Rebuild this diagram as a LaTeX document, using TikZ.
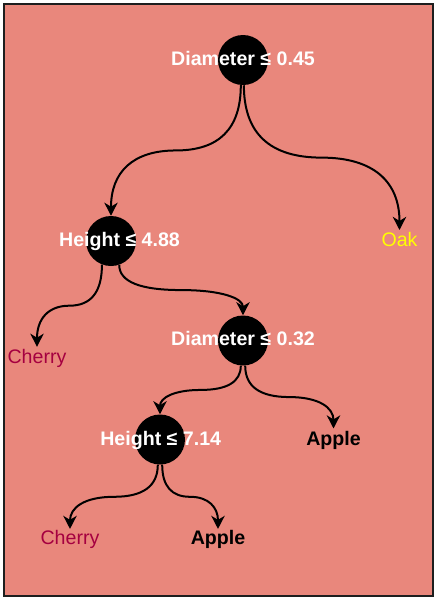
\documentclass[tikz,border=0pt]{standalone}
\usepackage{fontspec}
\setmainfont{Liberation Sans}
\usetikzlibrary{arrows.meta,calc}
\definecolor{bgsalmon}{RGB}{233,135,124}
\definecolor{cherryc}{RGB}{165,0,64}
\definecolor{oakc}{RGB}{255,255,0}
\definecolor{framec}{RGB}{30,30,30}
\begin{document}
\begin{tikzpicture}[x=0.75pt,y=-0.75pt,
  decision/.style={circle,fill=black,minimum size=37.5pt,inner sep=0pt},
  cond/.style={font=\fontsize{14.7pt}{17pt}\selectfont\bfseries,text=white,anchor=base,inner sep=0pt},
  leaf/.style={font=\fontsize{14.7pt}{17pt}\selectfont,anchor=base,inner sep=0pt},
  branch/.style={line width=1.5pt,-{Stealth[length=9.8pt,width=10pt,inset=3pt]},
    to path={let \p1=(\tikztostart), \p2=(\tikztotarget), \p3=($(\p1)!0.5!(\p2)$),
      \p4=(\x1,\y3), \p5=(\x2,\y3) in
      .. controls ($(\p1)!0.6667!(\p4)$) and ($(\p3)!0.6667!(\p4)$) .. (\p3)
      .. controls ($(\p3)!0.6667!(\p5)$) and ($(\p2)!0.6667!(\p5)$) .. (\tikztotarget)}}]
\useasboundingbox (0,0) rectangle (436,601);
\fill[white] (0,0) rectangle (436,601);
\draw[line width=1.5pt, draw=framec, fill=bgsalmon] (4,4) rectangle (433,595.5);

% decision nodes
\node[decision] (root) at (243,60) {};
\node[decision] (h1) at (111,241) {};
\node[decision] (d2) at (243,340.5) {};
\node[decision] (h2) at (160,439.5) {};

% condition labels
\node[cond] (t0) at (243,65.7) {Diameter ≤ 0.45};
\node[cond] (t1) at (119.5,246.7) {Height ≤ 4.88};
\node[cond] (t2) at (243,345.7) {Diameter ≤ 0.32};
\node[cond] (t3) at (160.7,445) {Height ≤ 7.14};

% leaves
\node[leaf,text=oakc] (oak) at (399.5,246.5) {Oak};
\node[leaf,text=cherryc] (cherry1) at (37,363.3) {Cherry};
\node[leaf,font=\fontsize{14.7pt}{17pt}\selectfont\bfseries] (apple1) at (333.5,445) {Apple};
\node[leaf,text=cherryc] (cherry2) at (70,544) {Cherry};
\node[leaf,font=\fontsize{14.7pt}{17pt}\selectfont\bfseries] (apple2) at (218,544) {Apple};

% branches
\draw[branch] (root.-95) to (h1.north);
\draw[branch] (root.-88) to ([yshift=12.4pt]oak.base);
\draw[branch] (h1.-111) to ([yshift=12.4pt]cherry1.base);
\draw[branch] (h1.-71) to (d2.north);
\draw[branch] (d2.-95) to (h2.north);
\draw[branch] (d2.-85) to ([yshift=12.4pt]apple1.base);
\draw[branch] (h2.-95) to ([yshift=11.3pt]cherry2.base);
\draw[branch] (h2.-85) to ([yshift=11.3pt]apple2.base);
\end{tikzpicture}
\end{document}
